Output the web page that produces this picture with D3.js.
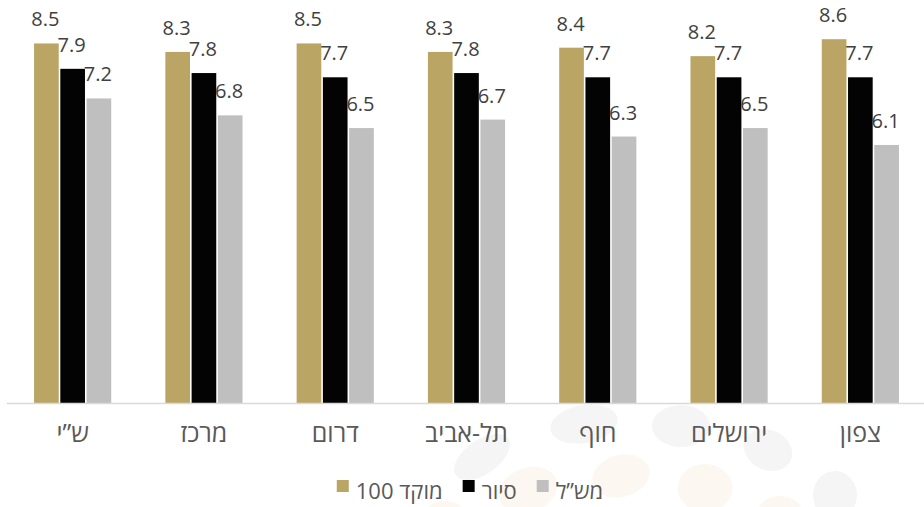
<!DOCTYPE html>
<html><head><meta charset="utf-8">
<script src="https://cdn.jsdelivr.net/npm/d3@7"></script>
<style>
body{margin:0;background:#fff}
svg{display:block}
text{font-family:"Open Sans","DejaVu Sans",sans-serif}
</style>
</head><body>
<svg id="c" width="924" height="507"></svg>
<script>
// ---- data ----
const categories = ["ש”י","מרכז","דרום","תל-אביב","חוף","ירושלים","צפון"];
const seriesNames = ["מוקד 100","סיור","מש”ל"];
const mokedValues = [8.5,8.3,8.5,8.3,8.4,8.2,8.6];
const siyurValues = [7.9,7.8,7.7,7.8,7.7,7.7,7.7];
const mashalValues = [7.2,6.8,6.5,6.7,6.3,6.5,6.1];
const seriesColors = ["#bba564","#030303","#bfbfbf"];
// faint background decoration (watermark ellipses)
const decor = [
  {cx:584,cy:424,rx:34,ry:19,rot:-10,c:"#f5f5f5"},
  {cx:681,cy:426,rx:29,ry:21,rot:0,c:"#f5f5f5"},
  {cx:768,cy:450,rx:25,ry:20,rot:25,c:"#f5f5f5"},
  {cx:482,cy:457,rx:32,ry:17,rot:-35,c:"#f5f5f5"},
  {cx:835,cy:495,rx:22,ry:24,rot:0,c:"#f5f5f5"},
  {cx:528,cy:490,rx:30,ry:22,rot:-20,c:"#fcf7f0"},
  {cx:621,cy:476,rx:29,ry:21,rot:-15,c:"#fcf7f0"},
  {cx:705,cy:488,rx:27,ry:24,rot:0,c:"#fcf7f0"},
  {cx:780,cy:512,rx:22,ry:16,rot:0,c:"#fcf7f0"},
  {cx:445,cy:515,rx:20,ry:14,rot:0,c:"#fcf7f0"}
];

const seriesValues = [mokedValues, siyurValues, mashalValues];
const svg = d3.select("#c");

svg.append("g").selectAll("ellipse").data(decor).join("ellipse")
  .attr("cx", d => d.cx).attr("cy", d => d.cy)
  .attr("rx", d => d.rx).attr("ry", d => d.ry)
  .attr("transform", d => `rotate(${d.rot},${d.cx},${d.cy})`)
  .attr("fill", d => d.c);

const x0 = d3.scaleBand().domain(categories).range([7, 926]).paddingInner(0.4).paddingOuter(0.2);
const x1 = d3.scaleBand().domain(d3.range(seriesNames.length)).range([0, x0.bandwidth()]);
const y = d3.scaleLinear().domain([0, 10]).range([403, -20]);

const rows = [];
categories.forEach((cat, i) => {
  seriesValues.forEach((vals, s) => rows.push({cat, s, v: vals[i]}));
});

svg.append("g").selectAll("rect").data(rows).join("rect")
  .attr("x", d => x0(d.cat) + x1(d.s) + 0.8)
  .attr("width", x1.bandwidth() - 1.6)
  .attr("y", d => y(d.v))
  .attr("height", d => y(0) - y(d.v))
  .attr("fill", d => seriesColors[d.s]);

svg.append("g").selectAll("text").data(rows).join("text")
  .attr("x", d => x0(d.cat) + x1(d.s) + x1.bandwidth()/2 - 1)
  .attr("y", d => y(d.v) - 17)
  .attr("text-anchor", "middle")
  .attr("font-size", 20)
  .attr("fill", "#404040")
  .text(d => d.v.toFixed(1));

// axis
const xAxis = d3.axisBottom(x0).tickSize(0).tickPadding(0);
const ax = svg.append("g").attr("transform", "translate(0,403)").call(xAxis);
ax.select(".domain").attr("d", "M7,0.5H924").attr("stroke", "#d9d9d9").attr("stroke-width", 1.5);
ax.selectAll(".tick text")
  .attr("y", 39).attr("dy", null)
  .attr("font-size", 25)
  .attr("font-family", null)
  .attr("fill", "#595959")
  .attr("direction", "rtl")
  .attr("text-anchor", "middle");

// legend
const lg = svg.append("g");
const items = lg.selectAll("g").data(seriesNames).join("g");
items.append("rect").attr("width", 12).attr("height", 12).attr("y", 480)
  .attr("fill", (d, i) => seriesColors[i]);
items.append("text").attr("y", 499).attr("font-size", 22).attr("fill", "#595959")
  .attr("direction", "rtl").attr("text-anchor", "middle").text(d => d);
let widths = [];
items.each(function(){ widths.push(d3.select(this).select("text").node().getBBox().width); });
const gap = 7, itemGap = 20;
const total = d3.sum(widths) + widths.length * (12 + gap) + (widths.length - 1) * itemGap;
let cx = 470 - total / 2;
items.each(function(d, i){
  const g = d3.select(this);
  g.select("rect").attr("x", cx);
  g.select("text").attr("x", cx + 12 + gap + widths[i] / 2);
  cx += 12 + gap + widths[i] + itemGap;
});
</script>
</body></html>
